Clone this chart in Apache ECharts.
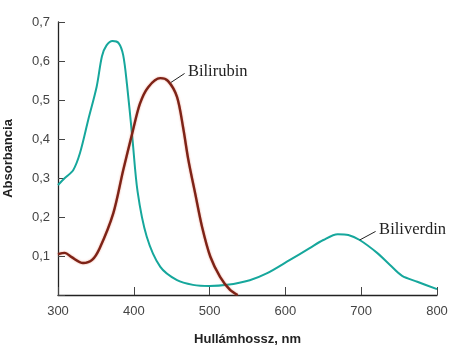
<!DOCTYPE html>
<html><head><meta charset="utf-8">
<script src="https://cdn.jsdelivr.net/npm/echarts@6/dist/echarts.min.js"></script>
<style>html,body{margin:0;padding:0;background:#fff}#c{width:451px;height:346px}</style>
</head><body><div id="c"></div>
<script>
const xTicks = [300, 400, 500, 600, 700, 800];
const yTicks = [0.1, 0.2, 0.3, 0.4, 0.5, 0.6, 0.7];
const biliverdinWl = [300, 309, 320, 329, 340, 351, 358, 364, 372, 380, 386, 391, 398, 405, 417, 435, 457, 478, 500, 523, 553, 576, 606, 632, 650, 669, 683, 698, 721, 738, 754, 774, 800];
const biliverdinAbs = [0.282, 0.30, 0.32, 0.364, 0.45, 0.534, 0.612, 0.640, 0.651, 0.646, 0.615, 0.54, 0.405, 0.265, 0.15, 0.072, 0.038, 0.026, 0.023, 0.026, 0.038, 0.056, 0.09, 0.12, 0.141, 0.156, 0.154, 0.141, 0.108, 0.077, 0.049, 0.034, 0.015];
const bilirubinWl = [300, 309, 318, 333, 345, 355, 373, 386, 398, 408, 419, 435, 445, 457, 465, 472, 481, 490, 501, 514, 527, 537];
const bilirubinAbs = [0.105, 0.108, 0.097, 0.082, 0.09, 0.12, 0.21, 0.32, 0.415, 0.49, 0.533, 0.556, 0.549, 0.508, 0.43, 0.346, 0.26, 0.175, 0.098, 0.046, 0.013, 0.0];
const labelBilirubin = 'Bilirubin';
const labelBiliverdin = 'Biliverdin';

const zip = (a, b) => a.map((v, i) => [v, b[i]]);
const chart = echarts.init(document.getElementById('c'));
const tickFont = {fontFamily: 'Liberation Sans, Arial, sans-serif', fontSize: 13, color: '#444'};
const annFont = {fontFamily: 'Liberation Serif, DejaVu Serif, serif', fontSize: 16.5, color: '#222', distance: 4};
chart.setOption({
  animation: false,
  grid: {left: 58, right: 14, top: 22, bottom: 51, outerBoundsMode: 'none', containLabel: false},
  xAxis: {
    type: 'value', min: 300, max: 800, interval: 100,
    name: 'Hullámhossz, nm', nameLocation: 'middle', nameGap: 38,
    nameTextStyle: {fontFamily: 'Liberation Sans, Arial, sans-serif', fontWeight: 'bold', fontSize: 13, color: '#222'},
    axisLine: {lineStyle: {color: '#222', width: 1.3}},
    axisTick: {inside: true, length: 8, lineStyle: {color: '#444'}},
    axisLabel: Object.assign({margin: 10}, tickFont),
    splitLine: {show: false}
  },
  yAxis: {
    type: 'value', min: 0, max: 0.7, interval: 0.1,
    name: 'Absorbancia', nameLocation: 'middle', nameGap: 43, nameRotate: 90,
    nameTextStyle: {fontFamily: 'Liberation Sans, Arial, sans-serif', fontWeight: 'bold', fontSize: 13, color: '#222'},
    axisLine: {show: true, lineStyle: {color: '#222', width: 1.3}},
    axisTick: {show: true, inside: true, length: 7, lineStyle: {color: '#444'}},
    axisLabel: Object.assign({margin: 8, formatter: v => v === 0 ? '' : v.toFixed(1).replace('.', ',')}, tickFont),
    splitLine: {show: false}
  },
  series: [
    {
      type: 'line', name: labelBiliverdin, data: zip(biliverdinWl, biliverdinAbs),
      smooth: 0.3, symbol: 'none', lineStyle: {color: '#16a79c', width: 2},
      markLine: {
        silent: true, symbol: 'none', lineStyle: {color: '#222', width: 1, type: 'solid'},
        label: Object.assign({show: true, position: 'end', formatter: labelBiliverdin}, annFont),
        data: [[{coord: [698, 0.141]}, {coord: [719, 0.163]}]]
      }
    },
    {
      type: 'line', name: labelBilirubin, data: zip(bilirubinWl, bilirubinAbs),
      smooth: 0.3, symbol: 'none',
      lineStyle: {color: '#7d2317', width: 2.4, shadowColor: 'rgba(220,90,60,0.6)', shadowBlur: 2},
      markLine: {
        silent: true, symbol: 'none', lineStyle: {color: '#222', width: 1, type: 'solid'},
        label: Object.assign({show: true, position: 'end', formatter: labelBilirubin}, annFont),
        data: [[{coord: [449, 0.545]}, {coord: [467, 0.568]}]]
      }
    }
  ]
});
</script></body></html>
